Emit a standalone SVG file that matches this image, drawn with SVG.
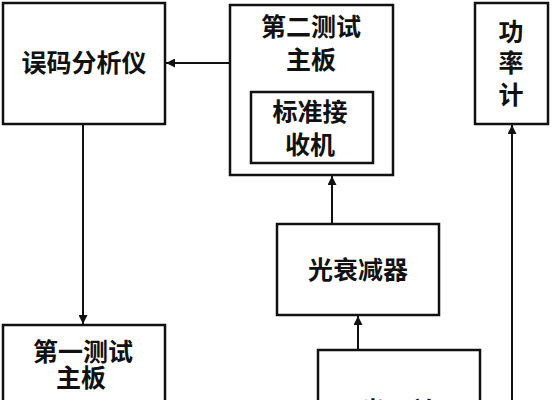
<svg xmlns="http://www.w3.org/2000/svg" width="553" height="400" viewBox="0 0 553 400">
<style>
.box{fill:#fff;stroke:#111;stroke-width:2.5}
.t{font-family:"Noto Sans CJK SC","Noto Sans CJK JP",sans-serif;font-size:25px;font-weight:bold;fill:#111;text-anchor:middle}
.c{stroke:#111;stroke-width:2;fill:none}
</style>
<defs>
<marker id="ah" viewBox="0 0 10 10" refX="10" refY="5" markerWidth="10" markerHeight="9" markerUnits="userSpaceOnUse" orient="auto">
<path d="M0,0 L10,5 L0,10 Z" fill="#111"/>
</marker>
</defs>
<rect width="553" height="400" fill="#fff"/>
<g id="connectors">
<line class="c" x1="231" y1="63" x2="166" y2="63" marker-end="url(#ah)"/>
<line class="c" x1="83" y1="125" x2="83" y2="324" marker-end="url(#ah)"/>
<line class="c" x1="332" y1="223" x2="332" y2="176" marker-end="url(#ah)"/>
<line class="c" x1="358" y1="349" x2="358" y2="316" marker-end="url(#ah)"/>
<line class="c" x1="512" y1="402" x2="512" y2="125" marker-end="url(#ah)"/>
</g>
<g id="ber-analyzer">
<rect class="box" x="3" y="3" width="162" height="121"/>
<text class="t" x="84" y="72">误码分析仪</text>
</g>
<g id="test-board-2">
<rect class="box" x="230" y="5" width="163" height="170"/>
<text class="t" x="311" y="36">第二测试</text>
<text class="t" x="311" y="69">主板</text>
</g>
<g id="standard-receiver">
<rect class="box" x="251" y="92" width="122" height="71"/>
<text class="t" x="310" y="121">标准接</text>
<text class="t" x="310" y="154">收机</text>
</g>
<g id="power-meter">
<rect class="box" x="475" y="3" width="73" height="121"/>
<text class="t" x="511" y="41">功</text>
<text class="t" x="511" y="72">率</text>
<text class="t" x="511" y="104">计</text>
</g>
<g id="attenuator">
<rect class="box" x="277" y="224" width="162" height="91"/>
<text class="t" x="358" y="279">光衰减器</text>
</g>
<g id="test-board-1">
<rect class="box" x="3" y="325" width="162" height="90"/>
<text class="t" x="83" y="361">第一测试</text>
<text class="t" x="81" y="387">主板</text>
</g>
<g id="bottom-box">
<rect class="box" x="318" y="350" width="162" height="70"/>
<text class="t" x="398" y="420">光开关</text>
</g>
</svg>
